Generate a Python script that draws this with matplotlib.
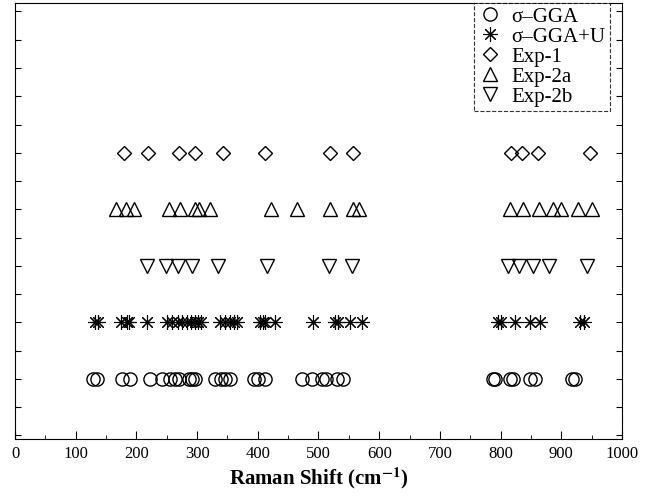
import matplotlib
matplotlib.use("Agg")
import matplotlib.pyplot as plt
from matplotlib.ticker import MultipleLocator

plt.rcParams["font.family"] = ["Liberation Serif", "DejaVu Serif"]
plt.rcParams["mathtext.fontset"] = "stix"

# Raman mode positions (cm^-1)
gga = [129, 135, 176, 190, 222, 242, 255, 264, 270, 286, 291, 297, 330, 340,
       346, 354, 393, 400, 412, 472, 490, 505, 512, 530, 541,
       788, 790, 815, 820, 848, 857, 917, 923]
gga_u = [132, 137, 175, 184, 187, 217, 250, 258, 269, 275, 283, 290, 296, 302,
         307, 338, 346, 354, 360, 365, 404, 408, 412, 428, 491, 527, 532, 552, 571,
         796, 800, 824, 848, 865, 931, 937]
exp1 = [180, 219, 270, 296, 342, 412, 519, 557, 817, 836, 862, 947]
exp2a = [167, 183, 196, 253, 272, 296, 303, 321, 421, 465, 519, 557, 566,
         816, 837, 864, 886, 899, 928, 950]
exp2b = [217, 249, 269, 291, 335, 415, 518, 555, 813, 831, 854, 879, 942]

labels = ["σ–GGA", "σ–GGA+U", "Exp-1", "Exp-2a", "Exp-2b"]
rows = [1, 2, 5, 4, 3]

fig = plt.figure(figsize=(6.54, 4.97), dpi=100)
ax = fig.add_axes([0.023, 0.117, 0.928, 0.877])

series = [gga, gga_u, exp1, exp2a, exp2b]
markers = ["o", (8, 2, 0), "D", "^", "v"]
sizes = [9.5, 10.5, 7.5, 10, 10]
widths = [1.0, 0.8, 1.0, 1.0, 1.0]
for vals, row, mk, ms, mw, lab in zip(series, rows, markers, sizes, widths, labels):
    ax.plot(vals, [row] * len(vals), linestyle="none", marker=mk, markersize=ms,
            markerfacecolor="none", markeredgecolor="black", markeredgewidth=mw,
            color="black", label=lab)

ax.set_xlim(0, 1000)
ax.set_ylim(-0.06, 7.65)
ax.xaxis.set_major_locator(MultipleLocator(100))
ax.xaxis.set_minor_locator(MultipleLocator(50))
ax.yaxis.set_major_locator(MultipleLocator(0.5))
ax.tick_params(axis="x", which="major", direction="in", length=6, labelsize=12, pad=5)
ax.tick_params(axis="x", which="minor", direction="in", length=3)
ax.tick_params(axis="y", direction="in", length=4, left=True, right=True,
               labelleft=False)
ax.set_xlabel(r"Raman Shift (cm$^{\mathbf{-1}}$)", fontsize=15, fontweight="bold",
              labelpad=3)

leg = ax.legend(loc="upper right", bbox_to_anchor=(0.98, 1.0), borderaxespad=0,
                fontsize=15, frameon=True, fancybox=False, handlelength=1.1,
                handletextpad=0.5, labelspacing=0.02, borderpad=0.2,
                markerscale=1.0)
frame = leg.get_frame()
frame.set_edgecolor("black")
frame.set_linestyle("--")
frame.set_linewidth(0.8)

fig.savefig("out.png", dpi=100)
